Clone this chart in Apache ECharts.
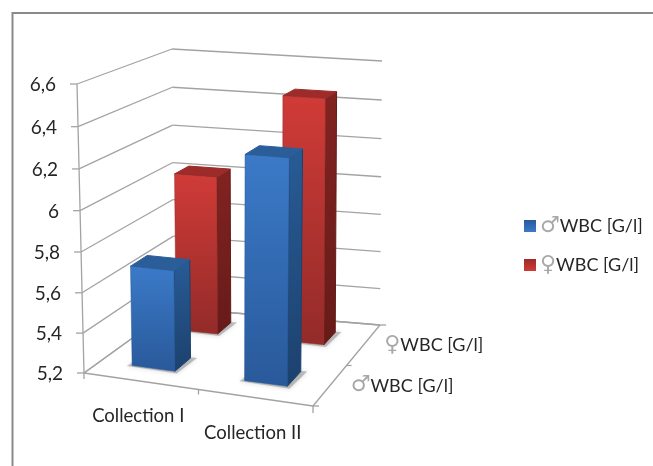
<!DOCTYPE html>
<html lang="en">

<head>
    <meta charset="UTF-8">
    <title>WBC</title>
    <script src="https://cdnjs.cloudflare.com/ajax/libs/echarts/6.0.0/echarts.min.js"></script>
    <style>
        html, body { margin: 0; background: #fff; }
        #main { width: 653px; height: 466px; filter: blur(0.45px); }
    </style>
</head>

<body>
    <div id="main"></div>
    <script type="text/javascript">
        const categories = ['Collection I', 'Collection II'];
        const seriesNames = ['♂WBC [G/l]', '♀WBC [G/l]'];
        const maleValues = [5.7, 6.29];
        const femaleValues = [6.025, 6.46];
        const yTicks = [5.2, 5.4, 5.6, 5.8, 6, 6.2, 6.4, 6.6];
        const yTickLabels = ['5,2', '5,4', '5,6', '5,8', '6', '6,2', '6,4', '6,6'];

        // corners of the 3D box on screen, the grid rect is the front face before the projection
        const box = {
            fbl: [84, 373], fbr: [313, 406], ftl: [77, 84], ftr: [318, 100],
            bbl: [174, 308], bbr: [380, 325], btl: [172, 49], btr: [382, 61]
        };
        const yMin = yTicks[0];
        const gray = '#a3a3a3';
        const fontName = 'Lato';
        const symbolRich = {
            sym: { fontFamily: 'DejaVu Sans', fontSize: 22, color: '#a8a8a8', fill: '#a8a8a8' },
            txt: { fontFamily: fontName, fontSize: 18, color: '#262626', fill: '#262626' }
        };

        const mix = (a, b, t) => [a[0] + (b[0] - a[0]) * t, a[1] + (b[1] - a[1]) * t];
        function project(cs, px, py, d) {
            const u = (px - cs.x) / cs.width;
            let v = (cs.y + cs.height - py) / cs.height;
            v = v - 0.04 * v * (1 - v);
            const front = mix(mix(box.fbl, box.fbr, u), mix(box.ftl, box.ftr, u), v);
            const back = mix(mix(box.bbl, box.bbr, u), mix(box.btl, box.btr, u), v);
            return mix(front, back, d);
        }
        const line = (a, b, w) => ({
            type: 'line', silent: true,
            shape: { x1: a[0], y1: a[1], x2: b[0], y2: b[1] },
            style: { stroke: gray, lineWidth: w || 1.3 }
        });
        const poly = (points, fill, extra) => ({
            type: 'polygon', silent: true,
            shape: { points: points },
            style: Object.assign({ fill: fill, stroke: fill, lineWidth: 1, lineJoin: 'round' }, extra || {})
        });
        const vGrad = (c1, c2) => ({
            type: 'linear', x: 0, y: 0, x2: 0, y2: 1,
            colorStops: [{ offset: 0, color: c1 }, { offset: 1, color: c2 }]
        });
        function splitName(name) {
            return '{sym|' + name.slice(0, 1) + '}{txt|' + name.slice(1) + '}';
        }

        // walls: one polyline per value tick, with the tick mark and its label
        function renderWalls(params, api) {
            const cs = params.coordSys;
            const val = api.value(0);
            const py = api.coord([0, val])[1];
            const a = project(cs, cs.x, py, 0);
            const b = project(cs, cs.x, py, 1);
            const c = project(cs, cs.x + cs.width, py, 1);
            const els = [line(a, b), line(b, c), line([a[0] - 7, a[1]], a)];
            els.push({
                type: 'text', silent: true,
                style: {
                    x: a[0] - 21, y: a[1] + 1, text: yTickLabels[params.dataIndex],
                    align: 'right', verticalAlign: 'middle',
                    font: '19px ' + fontName, fill: '#262626'
                }
            });
            return { type: 'group', children: els };
        }

        // floor edges, axis ticks and the labels of both horizontal axes
        function renderFloor(params, api) {
            const cs = params.coordSys;
            const i = params.dataIndex;
            const right = cs.x + cs.width, bottom = cs.y + cs.height;
            const els = [];
            const center = api.coord([i, yMin])[0];
            const p = project(cs, center, bottom, 0);
            els.push({
                type: 'text', silent: true,
                style: {
                    x: p[0] - 3, y: p[1] + 35, text: categories[i], align: 'center', verticalAlign: 'middle',
                    font: '18.5px ' + fontName, fill: '#262626'
                }
            });
            // series names sit along the depth axis, nearest one first
            const q = project(cs, right, bottom, i === 0 ? 0.25 : 0.75);
            els.push({
                type: 'text', silent: true,
                style: {
                    x: q[0] + 21, y: q[1], text: splitName(seriesNames[i]), rich: symbolRich,
                    align: 'left', verticalAlign: 'middle'
                }
            });
            if (i === 0) {
                const fl = project(cs, cs.x, bottom, 0), fr = project(cs, right, bottom, 0);
                const bl = project(cs, cs.x, bottom, 1), br = project(cs, right, bottom, 1);
                const fMid = project(cs, cs.x + cs.width / 2, bottom, 0);
                const dMid = project(cs, right, bottom, 0.5);
                els.push(line(fl, fr), line(fr, br), line(fl, bl), line(bl, br));
                els.push(line(project(cs, cs.x, cs.y, 0), fl));
                els.push(line(fl, [fl[0], fl[1] + 6]), line(fMid, [fMid[0], fMid[1] + 5]), line(fr, [fr[0], fr[1] + 7]));
                els.push(line(fr, [fr[0] + 6, fr[1]]), line(dMid, [dMid[0] + 5, dMid[1]]), line(br, [br[0] + 6, br[1]]));
            }
            return { type: 'group', children: els };
        }

        // barShare: share of the category band, barShift: sideways offset as a share of the grid
        function barRenderer(d0, d1, barShare, barShift, colors) {
            return function (params, api) {
                const cs = params.coordSys;
                const cat = api.value(0), val = api.value(1);
                const band = api.size([1, 0])[0];
                const cx = api.coord([cat, val])[0] + barShift * cs.width;
                const x0 = cx - band * barShare / 2, x1 = cx + band * barShare / 2;
                const y0 = api.coord([cat, yMin])[1], y1 = api.coord([cat, val])[1];
                const p = (x, y, d) => project(cs, x, y, d);
                const m = band * 0.035;
                return {
                    type: 'group',
                    children: [
                        // soft shadow on the floor
                        poly([p(x0 - m, y0, d0 - 0.015), p(x1 + m, y0, d0 - 0.025), p(x1 + m * 1.5, y0, d1 + 0.01), p(x0, y0, d1)],
                            'rgba(110,110,110,0.4)', { stroke: 'none', shadowBlur: 5, shadowColor: 'rgba(110,110,110,0.6)' }),
                        poly([p(x1, y1, d0), p(x1, y1, d1), p(x1, y0, d1), p(x1, y0, d0)], vGrad(colors.side[0], colors.side[1]), { stroke: colors.side[1] }),
                        poly([p(x0, y1, d0), p(x1, y1, d0), p(x1, y1, d1), p(x0, y1, d1)], colors.top),
                        poly([p(x0, y1, d0), p(x1, y1, d0), p(x1, y0, d0), p(x0, y0, d0)], vGrad(colors.front[0], colors.front[1]), { stroke: colors.front[1], lineWidth: 0.5 })
                    ]
                };
            };
        }

        const blue = { front: ['#3b7ac8', '#29599a'], side: ['#285b95', '#1c416e'], top: '#2b5d99' };
        const red = { front: ['#d03b37', '#932b29'], side: ['#822321', '#661b19'], top: '#9c2b29' };
        const toData = values => values.map((v, i) => [i, v]);

        const myChartDom = echarts.init(document.getElementById('main'), null, { renderer: 'canvas' });
        const option = {
            animation: false,
            backgroundColor: '#fff',
            grid: { left: box.fbl[0], top: box.ftl[1], width: box.fbr[0] - box.fbl[0], height: box.fbl[1] - box.ftl[1] },
            xAxis: { type: 'category', data: categories, show: false },
            yAxis: { type: 'value', min: yMin, max: yTicks[yTicks.length - 1], interval: 0.2, show: false },
            legend: {
                left: 519, top: 210, orient: 'vertical', itemWidth: 12, itemHeight: 12, itemGap: 17,
                selectedMode: false,
                formatter: splitName,
                textStyle: { rich: symbolRich, padding: [0, 0, 0, -1] },
                data: [
                    { name: seriesNames[0], icon: 'rect', itemStyle: { color: vGrad('#29599a', '#3b7ac8') } },
                    { name: seriesNames[1], icon: 'rect', itemStyle: { color: vGrad('#9c2b29', '#d03b37') } }
                ]
            },
            graphic: [
                { type: 'polyline', silent: true, z: 10, shape: { points: [[12.5, 466], [12.5, 13], [653, 13]] }, style: { fill: 'none', stroke: '#8a8a8a', lineWidth: 2 } }
            ],
            series: [
                { type: 'custom', name: seriesNames[0], z: 5, silent: true, renderItem: barRenderer(0.18, 0.37, 0.38, -0.013, blue), encode: { x: 0, y: 1 }, data: toData(maleValues) },
                { type: 'custom', name: seriesNames[1], z: 4, silent: true, renderItem: barRenderer(0.71, 0.87, 0.39, -0.02, red), encode: { x: 0, y: 1 }, data: toData(femaleValues) },
                { type: 'custom', name: 'walls', z: 2, silent: true, renderItem: renderWalls, encode: { y: 0 }, data: yTicks.map(v => [v]) },
                { type: 'custom', name: 'floor', z: 3, silent: true, renderItem: renderFloor, encode: { x: 0 }, data: categories.map((c, i) => [i]) }
            ]
        };
        myChartDom.setOption(option);
    </script>
</body>

</html>
